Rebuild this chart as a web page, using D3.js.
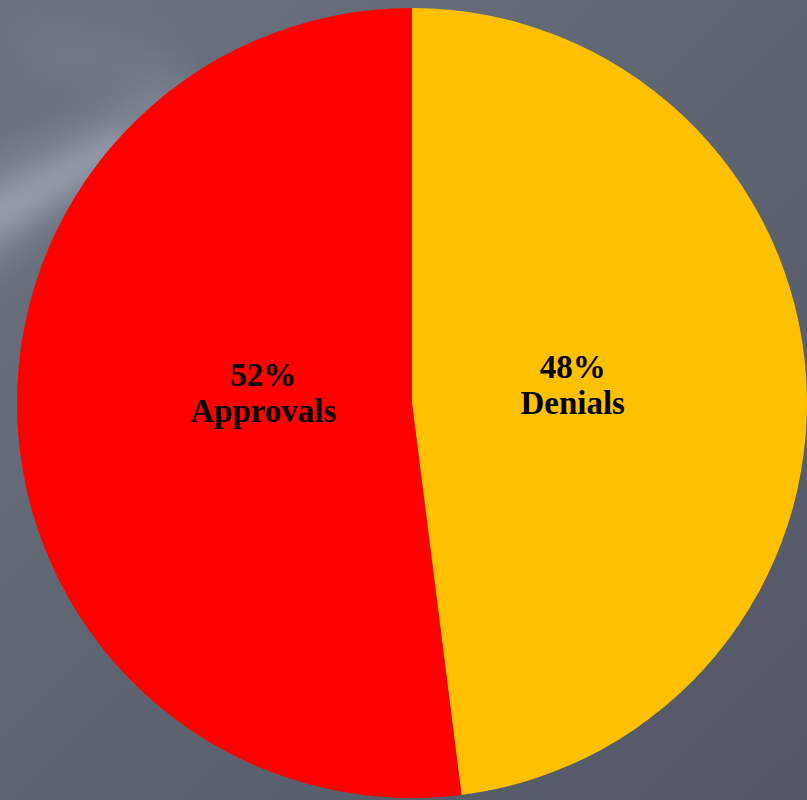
<!DOCTYPE html>
<html>
<head>
<meta charset="utf-8">
<script src="https://cdn.jsdelivr.net/npm/d3@7/dist/d3.min.js"></script>
<style>
  html, body { margin: 0; padding: 0; background: #5d636f; }
  svg { display: block; }
</style>
</head>
<body>
<svg id="chart" width="807" height="800"></svg>
<script>
const categories = ["Denials", "Approvals"];
const values = [48, 52];
const percentLabels = ["48%", "52%"];
const colors = ["#FFC000", "#FF0000"];

const W = 807, H = 800;
const cx = 412, cy = 403, R = 395;

const svg = d3.select("#chart");
const defs = svg.append("defs");

const bg = defs.append("linearGradient").attr("id", "bg")
  .attr("x1", "0").attr("y1", "0").attr("x2", "1").attr("y2", "1");
bg.append("stop").attr("offset", "0").attr("stop-color", "#6d747f");
bg.append("stop").attr("offset", "0.5").attr("stop-color", "#5e6470");
bg.append("stop").attr("offset", "1").attr("stop-color", "#535766");

const blur = defs.append("filter").attr("id", "blur")
  .attr("x", "-50%").attr("y", "-50%").attr("width", "200%").attr("height", "200%");
blur.append("feGaussianBlur").attr("stdDeviation", 20);

const blur2 = defs.append("filter").attr("id", "blur2")
  .attr("x", "-50%").attr("y", "-50%").attr("width", "200%").attr("height", "200%");
blur2.append("feGaussianBlur").attr("stdDeviation", 10);

svg.append("rect").attr("width", W).attr("height", H).attr("fill", "url(#bg)");

// soft light streak in upper-left
svg.append("path")
  .attr("d", "M-40,180 L170,80 L200,110 L-40,290 Z")
  .attr("fill", "#a6aebf").attr("opacity", 0.4).attr("filter", "url(#blur)");
svg.append("path")
  .attr("d", "M-20,200 L120,130 L135,150 L-20,250 Z")
  .attr("fill", "#a9b1c3").attr("opacity", 0.45).attr("filter", "url(#blur2)");
svg.append("path")
  .attr("d", "M20,30 L160,40 L200,90 L40,80 Z")
  .attr("fill", "#8e96a4").attr("opacity", 0.25).attr("filter", "url(#blur)");

const data = categories.map((c, i) => ({ name: c, value: values[i], pct: percentLabels[i], color: colors[i] }));

const pie = d3.pie().value(d => d.value).sort(null);
const arc = d3.arc().innerRadius(0).outerRadius(R);
const labelArc = d3.arc().innerRadius(155).outerRadius(155);

const g = svg.append("g").attr("transform", `translate(${cx},${cy})`);
const arcs = pie(data);

g.selectAll("path.slice").data(arcs).join("path")
  .attr("class", "slice")
  .attr("d", arc)
  .attr("fill", d => d.data.color);

const labels = g.selectAll("text.lbl").data(arcs).join("text")
  .attr("class", "lbl")
  .attr("text-anchor", "middle")
  .attr("font-family", "'Palatino Linotype', 'Book Antiqua', Palatino, 'Liberation Serif', serif")
  .attr("font-weight", "bold")
  .attr("font-size", 33)
  .attr("fill", "#000")
  .attr("transform", d => {
    const [x, y] = labelArc.centroid(d);
    return `translate(${x + 6},${y * 0.4})`;
  });

labels.append("tspan").attr("x", 0).attr("y", -21).text(d => d.data.pct);
labels.append("tspan").attr("x", 0).attr("y", 15).text(d => d.data.name);
</script>
</body>
</html>
